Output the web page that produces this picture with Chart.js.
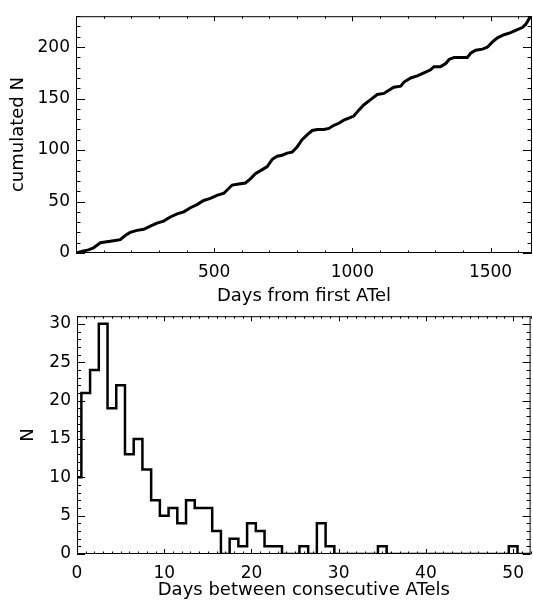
<!DOCTYPE html>
<html>
<head>
<meta charset="utf-8">
<script src="https://cdn.jsdelivr.net/npm/chart.js@4/dist/chart.umd.min.js"></script>
<style>
  body { margin: 0; background: #fff; }
  #wrap { position: relative; width: 533px; height: 603px; }
  canvas { position: absolute; left: 0; }
</style>
</head>
<body>
<div id="wrap">
  <canvas id="cumChart" width="533" height="310" style="top:0"></canvas>
  <canvas id="gapChart" width="533" height="303" style="top:300px"></canvas>
</div>
<script>
// top panel: cumulated number of ATels vs days
const cumDays = [0, 27, 45, 63, 88, 112, 136, 160, 178, 196, 221, 245, 269, 293, 317, 341, 366, 390, 414, 438,
  462, 486, 510, 535, 565, 589, 613, 631, 649, 674, 692, 710, 728, 746, 764, 782, 800, 818, 837, 855,
  873, 897, 915, 933, 951, 969, 987, 1005, 1024, 1042, 1066, 1090, 1114, 1132, 1150, 1175, 1187, 1211, 1235, 1259,
  1283, 1295, 1319, 1338, 1350, 1368, 1392, 1416, 1428, 1446, 1471, 1489, 1507, 1525, 1549, 1573, 1597, 1615, 1627, 1643, 1650];
const cumN = [0, 2, 3, 5, 10, 11, 12, 13, 17, 20, 22, 23, 26, 29, 31, 35, 38, 40, 44, 47,
  51, 53, 56, 58, 66, 67, 68, 72, 77, 81, 84, 91, 94, 95, 97, 98, 103, 110, 115, 119,
  120, 120, 121, 124, 126, 129, 131, 133, 139, 144, 149, 154, 155, 158, 161, 162, 166, 170, 172, 175,
  178, 181, 181, 184, 188, 190, 190, 190, 194, 197, 198, 200, 205, 209, 212, 214, 217, 219, 222, 229, 230];

// bottom panel: histogram of days between consecutive ATels
const gapDays = [0, 1, 2, 3, 4, 5, 6, 7, 8, 9, 10, 11, 12, 13, 14, 15, 16, 17, 18, 19, 20, 21, 22, 23, 24, 25, 26,
  27, 28, 29, 30, 31, 32, 33, 34, 35, 36, 37, 38, 39, 40, 41, 42, 43, 44, 45, 46, 47, 48, 49, 50, 51, 52];
const gapCount = [10, 21, 24, 30, 19, 22, 13, 15, 11, 7, 5, 6, 4, 7, 6, 6, 3, 0, 2, 1, 4, 3, 1, 1, 0, 0, 1,
  0, 4, 1, 0, 0, 0, 0, 0, 1, 0, 0, 0, 0, 0, 0, 0, 0, 0, 0, 0, 0, 0, 0, 1, 0, 0];

// tick labels
const cumXTicks = [500, 1000, 1500];
const cumYTicks = [0, 50, 100, 150, 200];
const gapXTicks = [0, 10, 20, 30, 40, 50];
const gapYTicks = [0, 5, 10, 15, 20, 25, 30];

const FONT = "'DejaVu Sans', sans-serif";

// IDL-style box: frame plus inward ticks on all four sides
const frameTicks = {
  id: 'frameTicks',
  afterDraw(chart, args, o) {
    const { ctx, chartArea: a } = chart;
    const x = chart.scales.x, y = chart.scales.y;
    ctx.save();
    ctx.strokeStyle = '#000';
    ctx.lineWidth = 1;
    ctx.strokeRect(a.left + 0.5, a.top + 0.5, a.right - a.left - 1, a.bottom - a.top - 1);
    ctx.beginPath();
    let n = Math.floor((x.max - x.min) / o.xMinor);
    for (let i = 0; i <= n; i++) {
      const v = x.min + i * o.xMinor;
      const px = Math.round(x.getPixelForValue(v)) + 0.5;
      const len = (v % o.xMajor === 0) ? o.xLen : o.xLen / 2;
      ctx.moveTo(px, a.bottom); ctx.lineTo(px, a.bottom - len);
      ctx.moveTo(px, a.top); ctx.lineTo(px, a.top + len);
    }
    n = Math.floor((y.max - y.min) / o.yMinor);
    for (let i = 0; i <= n; i++) {
      const v = y.min + i * o.yMinor;
      const py = Math.round(y.getPixelForValue(v)) + 0.5;
      const len = (v % o.yMajor === 0) ? o.yLen : o.yLen / 2;
      ctx.moveTo(a.left, py); ctx.lineTo(a.left + len, py);
      ctx.moveTo(a.right, py); ctx.lineTo(a.right - len, py);
    }
    ctx.stroke();
    ctx.restore();
  }
};

function axis(min, max, ticks, title, size, titlePad, tickPad) {
  return {
    type: 'linear',
    min: min,
    max: max,
    afterBuildTicks: s => { s.ticks = ticks.map(v => ({ value: v })); },
    afterFit: s => { if (s.isHorizontal()) s.height = size; else s.width = size; },
    grid: { display: false, drawTicks: false },
    border: { display: false },
    ticks: {
      color: '#000', font: { family: FONT, size: 17 }, padding: tickPad,
      maxRotation: 0, autoSkip: false,
      callback: v => String(v)   // no thousands separator
    },
    title: { display: true, text: title, color: '#000', font: { family: FONT, size: 18 }, padding: titlePad }
  };
}

new Chart(document.getElementById('cumChart'), {
  type: 'line',
  data: {
    datasets: [{
      data: cumDays.map((d, i) => ({ x: d, y: cumN[i] })),
      borderColor: '#000',
      borderWidth: 3,
      pointRadius: 0,
      tension: 0
    }]
  },
  options: {
    responsive: false,
    animation: false,
    layout: { padding: { top: 14, right: 1, left: 0, bottom: 0 } },
    scales: {
      x: axis(0, 1650, cumXTicks, 'Days from first ATel', 57, { top: 0, bottom: 3 }, 9),
      y: axis(0, 230, cumYTicks, 'cumulated N', 76, { top: 8, bottom: 0 }, 6)
    },
    plugins: {
      legend: { display: false },
      tooltip: { enabled: false },
      frameTicks: { xMinor: 100, xMajor: 500, xLen: 5, yMinor: 10, yMajor: 50, yLen: 9 }
    }
  },
  plugins: [frameTicks]
});

new Chart(document.getElementById('gapChart'), {
  type: 'line',
  data: {
    datasets: [{
      data: gapDays.map((d, i) => ({ x: d, y: gapCount[i] })),
      borderColor: '#000',
      borderWidth: 2.5,
      pointRadius: 0,
      stepped: 'middle'
    }]
  },
  options: {
    responsive: false,
    animation: false,
    layout: { padding: { top: 15, right: 1, left: 0, bottom: 0 } },
    scales: {
      x: axis(0, 52, gapXTicks, 'Days between consecutive ATels', 49, { top: 0, bottom: 2 }, 9),
      y: axis(0, 31, gapYTicks, 'N', 77, { top: 18, bottom: 0 }, 6)
    },
    plugins: {
      legend: { display: false },
      tooltip: { enabled: false },
      frameTicks: { xMinor: 1, xMajor: 10, xLen: 5, yMinor: 1, yMajor: 5, yLen: 8 }
    }
  },
  plugins: [frameTicks]
});
</script>
</body>
</html>
